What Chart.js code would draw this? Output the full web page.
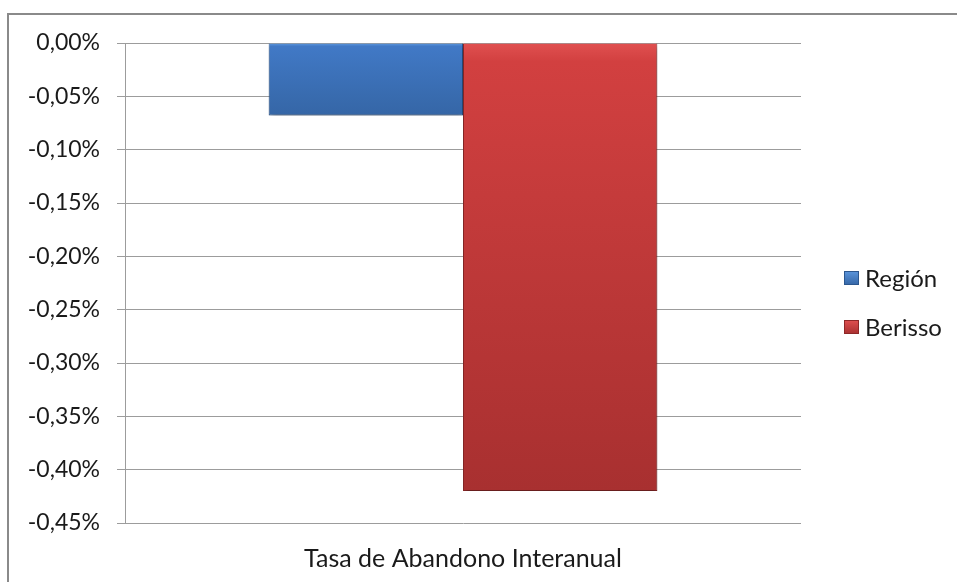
<!DOCTYPE html>
<html>
<head>
<meta charset="utf-8">
<script src="https://cdn.jsdelivr.net/npm/chart.js@4/dist/chart.umd.min.js"></script>
<style>
  html, body { margin: 0; padding: 0; background: #fff; }
  #wrap { width: 957px; height: 582px; position: relative; }
</style>
</head>
<body>
<div id="wrap"><canvas id="chart"></canvas></div>
<script>
const categories = ["Tasa de Abandono Interanual"];
const seriesNames = ["Región", "Berisso"];
const regionValues = [-0.068];
const berissoValues = [-0.42];
const yMin = -0.45;
const yMax = 0;
const yStep = 0.05;

const FONT = "Lato, 'Open Sans', sans-serif";
const TEXT = "#1a1a1a";
const GRID = "#9c9c9c";

const fills = [
  { top: "#5b95dc", mid: "#4179c6", bottom: "#3566a6", edge: "#2c578f" },
  { top: "#e05050", mid: "#d24040", bottom: "#a83030", edge: "#8e2828" }
];

function pct(v) {
  return Math.abs(v).toFixed(2) === "0.00" ? "0,00%" : v.toFixed(2).replace(".", ",") + "%";
}

// outer frame like the spreadsheet chart object
const framePlugin = {
  id: "frame",
  beforeDraw(chart) {
    const ctx = chart.ctx;
    ctx.save();
    ctx.strokeStyle = "#8a8a8a";
    ctx.lineWidth = 2;
    ctx.beginPath();
    ctx.moveTo(8, 600);
    ctx.lineTo(8, 14);
    ctx.lineTo(960, 14);
    ctx.stroke();
    ctx.restore();
  }
};

// vertical gradient per bar plus a soft shadow
const barLook = {
  id: "barLook",
  beforeDatasetDraw(chart, args) {
    const i = args.index;
    const meta = args.meta;
    const f = fills[i];
    meta.data.forEach((el) => {
      const g = chart.ctx.createLinearGradient(0, el.base, 0, el.y);
      g.addColorStop(0, f.top);
      g.addColorStop(0.04, f.mid);
      g.addColorStop(1, f.bottom);
      el.options.backgroundColor = g;
      el.options.borderColor = f.edge;
    });
    const ctx = chart.ctx;
    ctx.save();
    ctx.shadowColor = "rgba(0,0,0,0.35)";
    ctx.shadowBlur = 5;
    ctx.shadowOffsetX = 1;
    ctx.shadowOffsetY = 3;
  },
  afterDatasetDraw(chart) {
    chart.ctx.restore();
  }
};

// legend drawn to the right of the plot
const sideLegend = {
  id: "sideLegend",
  afterDraw(chart) {
    const ctx = chart.ctx;
    const x = 844;
    const rows = [278, 327];
    ctx.save();
    ctx.font = "24px " + FONT;
    ctx.textBaseline = "middle";
    chart.data.datasets.forEach((ds, i) => {
      const y = rows[i];
      const f = fills[i];
      const g = ctx.createLinearGradient(0, y - 7, 0, y + 7);
      g.addColorStop(0, f.top);
      g.addColorStop(1, f.bottom);
      ctx.fillStyle = g;
      ctx.fillRect(x, y - 7, 15, 14);
      ctx.strokeStyle = f.edge;
      ctx.lineWidth = 1;
      ctx.strokeRect(x + 0.5, y - 6.5, 14, 13);
      ctx.fillStyle = TEXT;
      ctx.fillText(ds.label, x + 21, y + 1);
    });
    ctx.restore();
  }
};

new Chart(document.getElementById("chart"), {
  type: "bar",
  data: {
    labels: categories,
    datasets: [
      { label: seriesNames[0], data: regionValues, borderWidth: 1, backgroundColor: fills[0].mid },
      { label: seriesNames[1], data: berissoValues, borderWidth: 1, backgroundColor: fills[1].mid }
    ]
  },
  options: {
    responsive: true,
    maintainAspectRatio: false,
    animation: false,
    layout: { padding: { top: 43, right: 156, bottom: 0, left: 0 } },
    plugins: {
      legend: { display: false },
      tooltip: { enabled: false }
    },
    datasets: {
      bar: { categoryPercentage: 0.575, barPercentage: 1 }
    },
    scales: {
      x: {
        afterFit(scale) { scale.height = 59; },
        grid: { display: false, drawTicks: false },
        border: { display: false },
        ticks: { color: TEXT, font: { family: FONT, size: 25 }, padding: 21 }
      },
      y: {
        min: yMin,
        max: yMax,
        afterFit(scale) { scale.width = 125; },
        afterBuildTicks(scale) {
          const ticks = [];
          for (let i = 0; i <= Math.round((yMax - yMin) / yStep); i++) {
            ticks.push({ value: yMax - i * yStep });
          }
          scale.ticks = ticks;
        },
        grid: { color: GRID, lineWidth: 1, tickLength: 8 },
        border: { display: true, color: GRID },
        ticks: {
          color: TEXT,
          font: { family: FONT, size: 23 },
          padding: 17,
          callback: (v) => pct(v)
        }
      }
    }
  },
  plugins: [framePlugin, barLook, sideLegend]
});
</script>
</body>
</html>
